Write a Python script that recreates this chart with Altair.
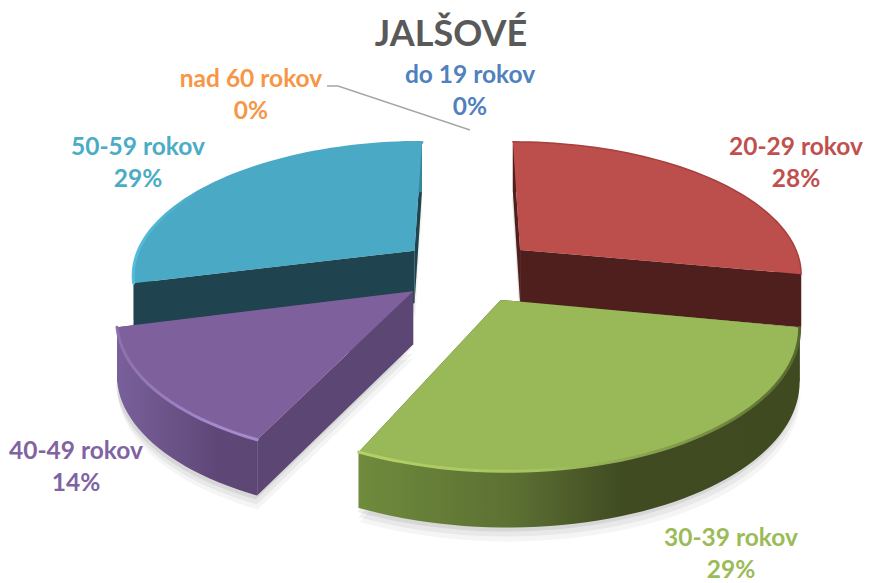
import math
import altair as alt
import pandas as pd

TITLE = "JALŠOVÉ"
categories = ["do 19 rokov", "20-29 rokov", "30-39 rokov", "40-49 rokov", "50-59 rokov", "nad 60 rokov"]
shares = [0, 28, 29, 14, 29, 0]
label_colors = ["#4f81bd", "#c0504d", "#9bbb59", "#8064a2", "#4bacc6", "#f79646"]

# layout of the drawing (scale units equal reference pixels)
CX, CY = 468.0, 270.0
A, B, K = 283.0, 132.0, 0.165      # ellipse axes and perspective
EXPLODE = 0.245
THICK = 53.0
label_anchor = {
    "do 19 rokov": (470, 76), "20-29 rokov": (796, 148), "30-39 rokov": (731, 539),
    "40-49 rokov": (76, 452), "50-59 rokov": (138, 148), "nad 60 rokov": (251, 80),
}
LINE_GAP = 32
leader = [(327, 86), (338, 86), (470, 130)]


def proj(X, Y, drop=0.0):
    s = 1.0 / (1.0 + K * Y)
    return CX + A * X * s, CY - B * Y * s + drop * (1 - 0.05 * Y)


def slice_geometry(a0, a1):
    mid = math.radians((a0 + a1) / 2)
    ex, ey = EXPLODE * math.sin(mid), EXPLODE * math.cos(mid)
    n = max(2, int((a1 - a0) / 2))
    rim = []
    for i in range(n + 1):
        t = math.radians(a0 + (a1 - a0) * i / n)
        rim.append((ex + math.sin(t), ey + math.cos(t)))
    return (ex, ey), rim


angles = {}
start = 0.0
for cat, v in zip(categories, shares):
    sweep = v * 3.6
    if v > 0:
        angles[cat] = (start, start + sweep)
    start += sweep

XS = alt.Scale(domain=[8, 863], nice=False, zero=False)
YS = alt.Scale(domain=[583, 8], nice=False, zero=False)


def shape_layer(pts, **mark):
    df = pd.DataFrame({"x": [p[0] for p in pts], "y": [p[1] for p in pts], "o": range(len(pts))})
    return alt.Chart(df).mark_line(interpolate="linear", **mark).encode(
        x=alt.X("x:Q", scale=XS, axis=None),
        y=alt.Y("y:Q", scale=YS, axis=None),
        order="o:Q",
    )


def grad(stops, x1=0, x2=1):
    return alt.Gradient(gradient="linear", x1=x1, y1=0, x2=x2, y2=0,
                        stops=[alt.GradientStop(offset=o, color=c) for o, c in stops])


style = {
    "50-59 rokov": dict(top="#4aa9c4", radial="#1f444f", bw=3,
                        rim=grad([(0, "#1f444f"), (0.85, "#1f444f"), (0.95, "#37879e"), (1, "#37879e")]),
                        bevel=grad([(0, "#55bcdc"), (0.25, "#4aa9c4"), (1, "#4aa9c4")])),
    "20-29 rokov": dict(top="#bc4e4b", radial="#4f1f1d", rim="#4f1f1d", bw=1.5, bevel="#a8403e"),
    "40-49 rokov": dict(top="#7e609c",
                        radial="#5c4673", bw=3,
                        rim=grad([(0, "#79609b"), (0.7, "#5f4878"), (1, "#5c4673")]),
                        bevel=grad([(0, "#8d70ae"), (0.7, "#a38bcc"), (1, "#a38bcc")])),
    "30-39 rokov": dict(top="#99b858", radial="#404b22", bw=3,
                        rim=grad([(0, "#6f8b3c"), (0.35, "#5c7033"), (0.6, "#404b22"), (1, "#3f4a21")]),
                        bevel=grad([(0, "#b5d268"), (0.4, "#a6c45f"), (0.75, "#7d9648"), (1, "#56672f")])),
}

layers = []
order = ["50-59 rokov", "20-29 rokov", "40-49 rokov", "30-39 rokov"]

# soft contact shadows
for cat in order:
    a0, a1 = angles[cat]
    apex, rim = slice_geometry(a0, a1)
    for grow, op in [(14, 0.04), (9, 0.05), (4, 0.07)]:
        outline = [proj(*apex, THICK)] + [proj(x, y, THICK) for x, y in rim] + [proj(*apex, THICK)]
        shadow = [(x - 2 + grow * 0.2, y + grow) for x, y in outline]
        layers.append(shape_layer(shadow, fill="#000000", fillOpacity=op, strokeOpacity=0))

for cat in order:
    a0, a1 = angles[cat]
    apex, rim = slice_geometry(a0, a1)
    st = style[cat]
    # radial walls
    for edge in (rim[0], rim[-1]):
        w = [proj(*apex), proj(*edge), proj(*edge, THICK), proj(*apex, THICK), proj(*apex)]
        layers.append(shape_layer(w, fill=st["radial"], strokeOpacity=0))
    # outer wall
    wall = [proj(x, y) for x, y in rim] + [proj(x, y, THICK) for x, y in reversed(rim)]
    wall.append(wall[0])
    layers.append(shape_layer(wall, fill=st["rim"], strokeOpacity=0))
    # top face
    top = [proj(*apex)] + [proj(x, y) for x, y in rim] + [proj(*apex)]
    layers.append(shape_layer(top, fill=st["top"], strokeOpacity=0))
    # bevel along the rim
    arc = [proj(x, y) for x, y in rim]
    layers.append(shape_layer(arc, stroke=st["bevel"], strokeWidth=st["bw"], strokeCap="round"))

# leader line
layers.append(shape_layer(leader, stroke="#a6a6a6", strokeWidth=1.5))

# labels
rows = []
for cat, v, col in zip(categories, shares, label_colors):
    x, y = label_anchor[cat]
    rows.append(dict(t=cat, x=x, y=y, c=col))
    rows.append(dict(t=f"{v}%", x=x, y=y + LINE_GAP, c=col))
labels = alt.Chart(pd.DataFrame(rows)).mark_text(
    font="Lato", fontWeight="bold", fontSize=24.5, align="center", baseline="middle"
).encode(
    x=alt.X("x:Q", scale=XS, axis=None),
    y=alt.Y("y:Q", scale=YS, axis=None),
    text="t:N",
    color=alt.Color("c:N", scale=None, legend=None),
)
title = alt.Chart(pd.DataFrame({"t": [TITLE], "x": [451], "y": [35]})).mark_text(
    font="Lato", fontWeight="bold", fontSize=36, color="#595959", align="center", baseline="middle"
).encode(
    x=alt.X("x:Q", scale=XS, axis=None),
    y=alt.Y("y:Q", scale=YS, axis=None),
    text="t:N",
)

chart = alt.layer(*layers, labels, title).properties(
    width=855, height=575, padding=0, autosize=alt.AutoSizeParams(type="none")
).configure_view(stroke=None)

chart.save("out.html", embed_options={"renderer": "svg", "actions": False})
